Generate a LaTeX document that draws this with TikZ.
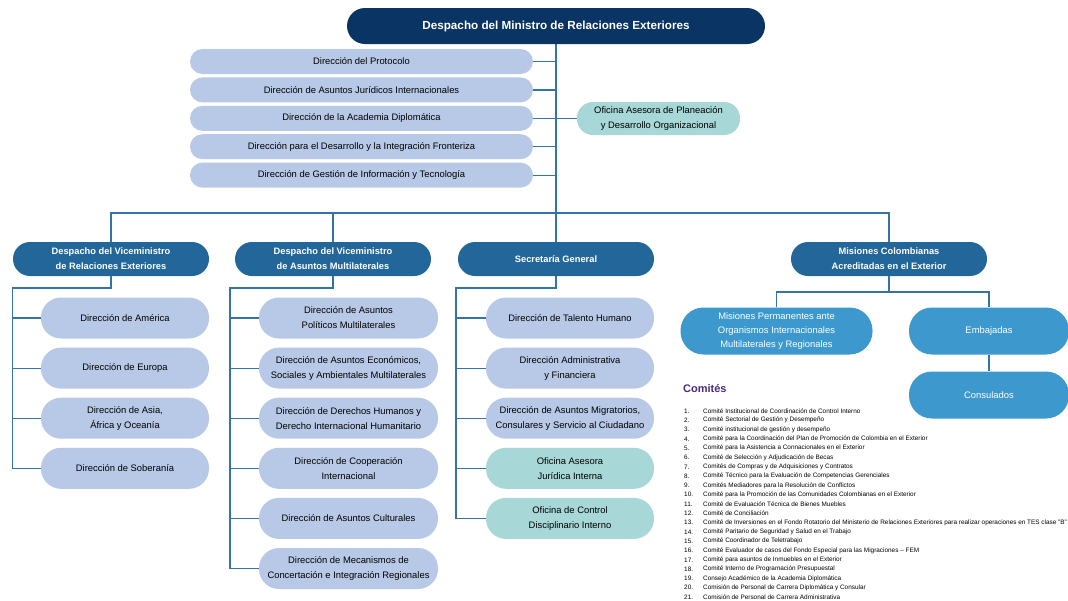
\documentclass[tikz,border=0pt]{standalone}
\usepackage{fontspec}
\setmainfont{Liberation Sans}
\usetikzlibrary{positioning}
\definecolor{azulmin}{HTML}{0A3463}
\definecolor{azulvice}{HTML}{22669A}
\definecolor{azulclaro}{HTML}{B7C9E6}
\definecolor{verdeagua}{HTML}{A7D7D7}
\definecolor{azulmis}{HTML}{3C98CD}
\definecolor{azullinea}{HTML}{3572A5}
\definecolor{morado}{HTML}{4A2A7E}
\begin{document}
\begin{tikzpicture}[x=1pt, y=-1pt,
	caja/.style={inner sep=0pt, align=center, draw=none},
	jefe/.style={caja, fill=azulmin, text=white, rounded corners=18pt,
		minimum width=418pt, minimum height=36pt, font=\bfseries\fontsize{11.7}{13}\selectfont},
	lista/.style={caja, fill=azulclaro, rounded corners=12.5pt,
		minimum width=343pt, minimum height=25pt, font=\fontsize{9.4}{14}\selectfont},
	vice/.style={caja, fill=azulvice, text=white, rounded corners=17pt,
		minimum width=196pt, minimum height=34pt, font=\bfseries\fontsize{9.3}{15}\selectfont},
	dir/.style={caja, fill=azulclaro, rounded corners=20pt,
		minimum width=168pt, minimum height=41pt, font=\fontsize{9.4}{15}\selectfont},
	ofi/.style={dir, fill=verdeagua},
	mis/.style={caja, fill=azulmis, text=white, rounded corners=23pt,
		minimum height=47pt, font=\fontsize{9.4}{14}\selectfont},
	linea/.style={draw=azullinea, line width=1.2pt},
	item/.style={anchor=west, inner sep=0pt, font=\fontsize{6.4}{7}\selectfont}]
	\useasboundingbox[fill=white] (0,0) rectangle (1068,600);
	% Despacho del ministro
	\node[jefe] (min) at (556,26) {Despacho del Ministro de Relaciones Exteriores};
	\node[lista] (p1) at (361.5,61.5) {Dirección del Protocolo};
	\node[lista, below=3pt of p1] (p2) {Dirección de Asuntos Jurídicos Internacionales};
	\node[lista, below=3pt of p2] (p3) {Dirección de la Academia Diplomática};
	\node[lista, below=3pt of p3] (p4) {Dirección para el Desarrollo y la Integración Fronteriza};
	\node[lista, below=3pt of p4] (p5) {Dirección de Gestión de Información y Tecnología};
	\node[ofi, minimum width=163pt, minimum height=33pt, rounded corners=16pt] (ofp) at (658.5,118.5)
		{Oficina Asesora de Planeación\\y Desarrollo Organizacional};
	% Viceministerios y secretaría
	\node[vice] (v1) at (111,259) {Despacho del Viceministro\\de Relaciones Exteriores};
	\node[vice] (v2) at (333,259) {Despacho del Viceministro\\de Asuntos Multilaterales};
	\node[vice] (sg) at (556,259) {Secretaría General};
	\node[vice] (mce) at (889,259) {Misiones Colombianas\\Acreditadas en el Exterior};
	% Relaciones exteriores
	\node[dir] (a1) at (125,318) {Dirección de América};
	\node[dir, below=8.7pt of a1] (a2) {Dirección de Europa};
	\node[dir, below=8.7pt of a2] (a3) {Dirección de Asia,\\África y Oceanía};
	\node[dir, below=8.7pt of a3] (a4) {Dirección de Soberanía};
	% Multilaterales
	\node[dir, minimum width=179pt] (b1) at (348.5,318) {Dirección de Asuntos\\Políticos Multilaterales};
	\node[dir, minimum width=179pt, below=8.7pt of b1] (b2) {Dirección de Asuntos Económicos,\\Sociales y Ambientales Multilaterales};
	\node[dir, minimum width=179pt, below=8.7pt of b2] (b3) {Dirección de Derechos Humanos y\\Derecho Internacional Humanitario};
	\node[dir, minimum width=179pt, below=8.7pt of b3] (b4) {Dirección de Cooperación\\Internacional};
	\node[dir, minimum width=179pt, below=8.7pt of b4] (b5) {Dirección de Asuntos Culturales};
	\node[dir, minimum width=179pt, below=8.7pt of b5] (b6) {Dirección de Mecanismos de\\Concertación e Integración Regionales};
	% Secretaría general
	\node[dir] (s1) at (570,318) {Dirección de Talento Humano};
	\node[dir, below=8.7pt of s1] (s2) {Dirección Administrativa\\y Financiera};
	\node[dir, below=8.7pt of s2] (s3) {Dirección de Asuntos Migratorios,\\Consulares y Servicio al Ciudadano};
	\node[ofi, below=8.7pt of s3] (s4) {Oficina Asesora\\Jurídica Interna};
	\node[ofi, below=8.7pt of s4] (s5) {Oficina de Control\\Disciplinario Interno};
	% Misiones
	\node[mis, minimum width=192pt] (mp) at (776.5,331) {Misiones Permanentes ante\\Organismos Internacionales\\Multilaterales y Regionales};
	\node[mis, minimum width=160pt] (emb) at (989,331) {Embajadas};
	\node[mis, minimum width=160pt] (con) at (989,395) {Consulados};
	% Conectores
	\draw[linea] (min.south) -- (sg.north);
	\foreach \p in {p1,p2,p3,p4,p5}
		\draw[linea] (\p.east) -- (\p.east -| min.south);
	\draw[linea] (ofp.west) -- (ofp.west -| min.south);
	\coordinate (bus) at (556,213);
	\draw[linea] (v1.north) |- (bus) -| (mce.north);
	\draw[linea] (v2.north) |- (bus);
	\coordinate (e1) at (12.5,288);
	\coordinate (e2) at (230,288);
	\coordinate (e3) at (456,288);
	\coordinate (e4) at (889,292);
	\draw[linea] (v1.south) |- (e1) |- (a4.west);
	\foreach \a in {a1,a2,a3}
		\draw[linea] (e1 |- \a.west) -- (\a.west);
	\draw[linea] (v2.south) |- (e2) |- (b6.west);
	\foreach \b in {b1,b2,b3,b4,b5}
		\draw[linea] (e2 |- \b.west) -- (\b.west);
	\draw[linea] (sg.south) |- (e3) |- (s5.west);
	\foreach \s in {s1,s2,s3,s4}
		\draw[linea] (e3 |- \s.west) -- (\s.west);
	\draw[linea] (mce.south) -- (e4);
	\draw[linea] (mp.north) |- (e4) -| (emb.north);
	\draw[linea] (emb.south) -- (con.north);
	% Comités
	\node[anchor=west, inner sep=0pt, text=morado, font=\bfseries\fontsize{11}{12}\selectfont] (com) at (683,389) {Comités};
	\foreach \txt [count=\i] in {
		{Comité Institucional de Coordinación de Control Interno},
		{Comité Sectorial de Gestión y Desempeño},
		{Comité institucional de gestión y desempeño},
		{Comité para la Coordinación del Plan de Promoción de Colombia en el Exterior},
		{Comité para la Asistencia a Connacionales en el Exterior},
		{Comité de Selección y Adjudicación de Becas},
		{Comités de Compras y de Adquisiciones y Contratos},
		{Comité Técnico para la Evaluación de Competencias Gerenciales},
		{Comités Mediadores para la Resolución de Conflictos},
		{Comité para la Promoción de las Comunidades Colombianas en el Exterior},
		{Comité de Evaluación Técnica de Bienes Muebles},
		{Comité de Conciliación},
		{Comité de Inversiones en el Fondo Rotatorio del Ministerio de Relaciones Exteriores para realizar operaciones en TES clase "B"},
		{Comité Paritario de Seguridad y Salud en el Trabajo},
		{Comité Coordinador de Teletrabajo},
		{Comité Evaluador de casos del Fondo Especial para las Migraciones – FEM},
		{Comité para asuntos de Inmuebles en el Exterior},
		{Comité Interno de Programación Presupuestal},
		{Consejo Académico de la Academia Diplomática},
		{Comisión de Personal de Carrera Diplomática y Consular},
		{Comisión de Personal de Carrera Administrativa}} {
		\node[item] (n\i) at (684,{411+9.3*(\i-1)}) {\i.};
		\node[item] (c\i) at (703,{411+9.3*(\i-1)}) {\txt};
	}
\end{tikzpicture}
\end{document}
